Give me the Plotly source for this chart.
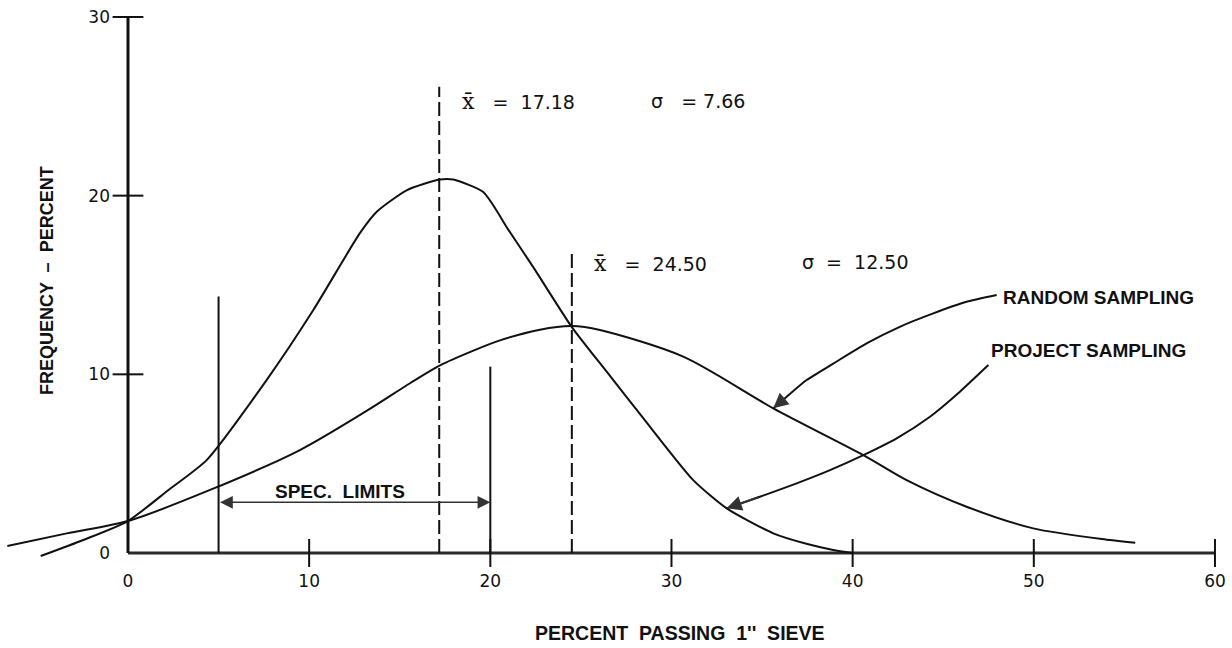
import plotly.graph_objects as go

# ---------------- data ----------------
project_x = [-4.82, -2.47, 0.0, 2.2, 4.34, 7.65, 10.23, 12.8, 13.73, 15.38, 17.2, 17.96,
             19.61, 20.99, 22.37, 24.49, 26.5, 28.44, 31.2, 33.05, 35.62, 37.5, 38.93, 40.0]
project_y = [-0.17, 0.73, 1.79, 3.5, 5.2, 9.68, 13.6, 17.9, 19.1, 20.3, 20.9, 20.9,
             20.2, 18.1, 16.0, 12.66, 10.05, 7.55, 4.08, 2.5, 1.1, 0.5, 0.17, 0.0]

random_x = [-6.66, -3.38, 0.0, 4.53, 9.49, 13.17, 15.57, 17.22, 19.0, 20.53, 22.74, 24.49, 26.05,
            30.65, 35.62, 40.59, 42.98, 46.29, 49.97, 54.2, 55.6]
random_y = [0.39, 1.1, 1.79, 3.53, 5.76, 7.95, 9.5, 10.5, 11.3, 11.9, 12.5, 12.7, 12.48,
            10.99, 8.1, 5.48, 4.08, 2.59, 1.38, 0.73, 0.57]

x_ticks = [0, 10, 20, 30, 40, 50, 60]
y_ticks = [0, 10, 20, 30]

mean_project, sd_project = 17.18, 7.66
mean_random, sd_random = 24.50, 12.50
mean_project_top = 26.1
mean_random_top = 16.9

spec_limits = [5, 20]
spec_tops = [14.35, 10.43]
spec_arrow_y = 2.84

random_arrow_x = [47.95, 46.29, 44.45, 42.6, 40.77, 38.93, 37.46, 36.36, 35.62]
random_arrow_y = [14.44, 14.06, 13.41, 12.66, 11.73, 10.6, 9.68, 8.75, 8.1]
project_arrow_x = [47.49, 45.92, 44.27, 42.43, 40.59, 38.75, 36.91, 34.88, 33.05]
project_arrow_y = [10.52, 9.03, 7.63, 6.42, 5.48, 4.64, 3.9, 3.15, 2.5]

# ---------------- figure ----------------
X_RANGE = [-7.065, 60.94]
Y_RANGE = [-5.316, 30.95]
FONT = "Liberation Sans"
NUMFONT = "DejaVu Sans"
BLACK = "#111111"

fig = go.Figure()

# axis lines
fig.add_trace(go.Scatter(x=[0, 60], y=[0, 0], mode="lines",
                         line=dict(color="#2a2a2a", width=3), hoverinfo="skip"))
fig.add_trace(go.Scatter(x=[0, 0], y=[0, 30], mode="lines",
                         line=dict(color=BLACK, width=3), hoverinfo="skip"))
# tick marks crossing the axes
fig.add_trace(go.Scatter(x=x_ticks[1:], y=[0] * (len(x_ticks) - 1), mode="markers",
                         marker=dict(symbol="line-ns", size=20,
                                     line=dict(color=BLACK, width=2)), hoverinfo="skip"))
fig.add_trace(go.Scatter(x=[0] * (len(y_ticks) - 1), y=y_ticks[1:], mode="markers",
                         marker=dict(symbol="line-ew", size=22,
                                     line=dict(color=BLACK, width=2)), hoverinfo="skip"))

# distribution curves
fig.add_trace(go.Scatter(x=project_x, y=project_y, mode="lines",
                         line=dict(color=BLACK, width=2, shape="spline", smoothing=0.6),
                         name="Project sampling"))
fig.add_trace(go.Scatter(x=random_x, y=random_y, mode="lines",
                         line=dict(color=BLACK, width=2, shape="spline", smoothing=0.8),
                         name="Random sampling"))

# mean lines (dashed)
fig.add_trace(go.Scatter(x=[mean_project, mean_project], y=[0, mean_project_top], mode="lines",
                         line=dict(color=BLACK, width=2, dash="14px,5px"), hoverinfo="skip"))
fig.add_trace(go.Scatter(x=[mean_random, mean_random], y=[0, mean_random_top], mode="lines",
                         line=dict(color=BLACK, width=2, dash="14px,5px"), hoverinfo="skip"))

# spec limit lines
for sx, st in zip(spec_limits, spec_tops):
    fig.add_trace(go.Scatter(x=[sx, sx], y=[0, st], mode="lines",
                             line=dict(color=BLACK, width=2), hoverinfo="skip"))

# curved pointer lines
fig.add_trace(go.Scatter(x=random_arrow_x, y=random_arrow_y, mode="lines",
                         line=dict(color=BLACK, width=2, shape="spline", smoothing=0.6),
                         hoverinfo="skip"))
fig.add_trace(go.Scatter(x=project_arrow_x, y=project_arrow_y, mode="lines",
                         line=dict(color=BLACK, width=2, shape="spline", smoothing=0.6),
                         hoverinfo="skip"))

annotations = []
# arrow heads of the pointers
annotations.append(dict(x=random_arrow_x[-1], y=random_arrow_y[-1], xref="x", yref="y",
                        ax=random_arrow_x[-2], ay=random_arrow_y[-2], axref="x", ayref="y",
                        text="", showarrow=True, arrowhead=2, arrowsize=1.5,
                        arrowwidth=2, arrowcolor="#333333"))
annotations.append(dict(x=project_arrow_x[-1], y=project_arrow_y[-1], xref="x", yref="y",
                        ax=project_arrow_x[-2], ay=project_arrow_y[-2], axref="x", ayref="y",
                        text="", showarrow=True, arrowhead=2, arrowsize=1.5,
                        arrowwidth=2, arrowcolor="#333333"))
# spec limits double arrow
annotations.append(dict(x=spec_limits[1], y=spec_arrow_y, xref="x", yref="y",
                        ax=spec_limits[0], ay=spec_arrow_y, axref="x", ayref="y",
                        text="", showarrow=True, arrowhead=2, startarrowhead=2,
                        arrowside="end+start", arrowsize=1.7, startarrowsize=1.7,
                        arrowwidth=1.5, arrowcolor="#333333"))
annotations.append(dict(x=11.7, y=3.45, xref="x", yref="y", text="<b>SPEC.  LIMITS</b>",
                        showarrow=False, font=dict(family=FONT, size=19, color=BLACK)))

# statistics labels
def stat(x, y, txt):
    annotations.append(dict(x=x, y=y, xref="x", yref="y", text=txt, showarrow=False,
                            xanchor="left", yanchor="middle",
                            font=dict(family=NUMFONT, size=19, color=BLACK)))

XBAR = "<span style='font-family:DejaVu Serif;font-size:22px'>x\u0304</span>"
stat(18.35, 25.26, XBAR + "   =  %.2f" % mean_project)
stat(28.75, 25.3, "\u03c3   = %.2f" % sd_project)
stat(25.6, 16.21, XBAR + "   =  %.2f" % mean_random)
stat(37.1, 16.3, "\u03c3  =  %.2f" % sd_random)

# curve labels
annotations.append(dict(x=48.2, y=14.31, xref="x", yref="y", text="<b>RANDOM SAMPLING</b>",
                        showarrow=False, xanchor="left", yanchor="middle",
                        font=dict(family=FONT, size=19, color=BLACK)))
annotations.append(dict(x=47.55, y=11.36, xref="x", yref="y", text="<b>PROJECT SAMPLING</b>",
                        showarrow=False, xanchor="left", yanchor="middle",
                        font=dict(family=FONT, size=19, color=BLACK)))

# axis titles
annotations.append(dict(x=-4.47, y=15.22, xref="x", yref="y",
                        text="<b>FREQUENCY  \u2013  PERCENT</b>", textangle=-90,
                        showarrow=False, font=dict(family=FONT, size=18, color=BLACK)))
annotations.append(dict(x=30.47, y=-4.5, xref="x", yref="y",
                        text="<b>PERCENT  PASSING  1''  SIEVE</b>",
                        showarrow=False, font=dict(family=FONT, size=19.5, color=BLACK)))

fig.update_layout(
    width=1232, height=648,
    margin=dict(l=0, r=0, t=0, b=0),
    paper_bgcolor="white", plot_bgcolor="white",
    showlegend=False,
    annotations=annotations,
    xaxis=dict(range=X_RANGE, showgrid=False, zeroline=False, showline=False,
               anchor="free", position=(0 - Y_RANGE[0]) / (Y_RANGE[1] - Y_RANGE[0]),
               tickvals=x_ticks, ticktext=[str(v) for v in x_ticks], ticks="",
               ticklabelstandoff=16,
               tickfont=dict(family=NUMFONT, size=17, color=BLACK)),
    yaxis=dict(range=Y_RANGE, showgrid=False, zeroline=False, showline=False,
               anchor="free", position=(0 - X_RANGE[0]) / (X_RANGE[1] - X_RANGE[0]),
               tickvals=y_ticks, ticktext=[str(v) for v in y_ticks], ticks="",
               ticklabelstandoff=18,
               tickfont=dict(family=NUMFONT, size=17, color=BLACK)),
)

fig.write_html("out.html", config={"displayModeBar": False},
               post_script="document.body.style.margin='0';document.body.style.overflow='hidden';")
